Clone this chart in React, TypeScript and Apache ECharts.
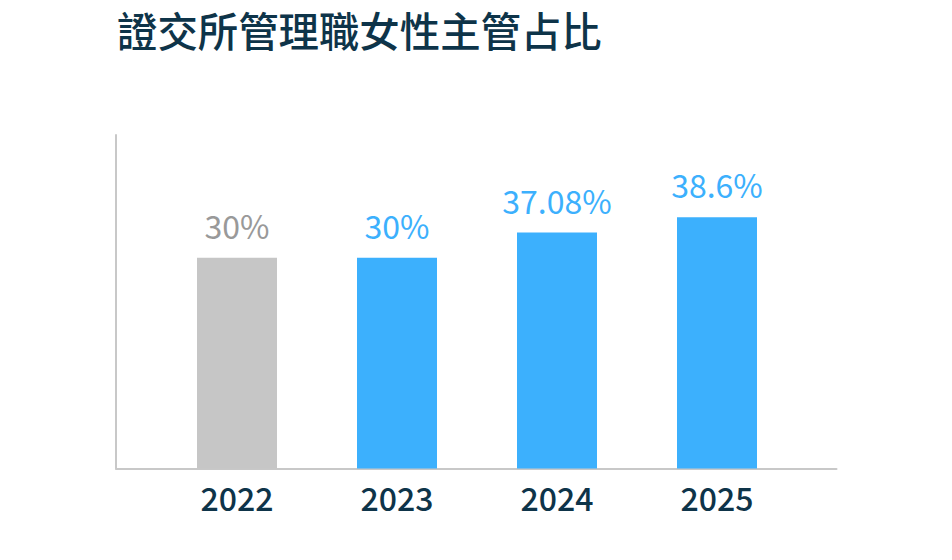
import React, { useEffect, useRef } from "react";
import * as echarts from "echarts";

const title = "證交所管理職女性主管占比";
const years = ["2022", "2023", "2024", "2025"];
// Values as printed on the labels
const labelValues = [30, 30, 37.08, 38.6];
// Bar heights (axis units, 0..47.5)
const barHeights = [30, 30, 33.6, 35.8];
const highlight = [false, true, true, true];

const FONT = "'Noto Sans CJK TC', 'Noto Sans', sans-serif";

export default function App() {
  const ref = useRef<HTMLDivElement>(null);
  useEffect(() => {
    document.body.style.margin = "0";
    const chart = echarts.init(ref.current!, undefined, { renderer: "svg" });
    chart.setOption({
      animation: false,
      backgroundColor: "#ffffff",
      title: {
        text: title,
        left: 112,
        top: 4,
        textStyle: { fontFamily: FONT, fontSize: 40.4, fontWeight: 500, color: "#0e3449" },
      },
      grid: [
        { left: 157, width: 640, top: 135, bottom: 91.5 },
        { left: 116, width: 720.5, top: 135, bottom: 91.5 },
      ],
      xAxis: [
        {
          type: "category",
          gridIndex: 0,
          data: years,
          axisLine: { show: false },
          axisTick: { show: false },
          axisLabel: { margin: 12, fontFamily: FONT, fontSize: 32, fontWeight: 500, color: "#0e3449" },
        },
        {
          type: "category",
          gridIndex: 1,
          data: [""],
          axisLine: { show: true, lineStyle: { color: "#c8c8c8", width: 2 } },
          axisTick: { show: false },
          axisLabel: { show: false },
        },
      ],
      yAxis: [
        {
          type: "value",
          gridIndex: 0,
          min: 0,
          max: 47.5,
          show: false,
          splitLine: { show: false },
        },
        {
          type: "value",
          gridIndex: 1,
          min: 0,
          max: 1,
          axisLine: { show: true, lineStyle: { color: "#c8c8c8", width: 2 } },
          axisTick: { show: false },
          axisLabel: { show: false },
          splitLine: { show: false },
        },
      ],
      series: [
        {
          type: "bar",
          xAxisIndex: 0,
          yAxisIndex: 0,
          barWidth: 80,
          data: barHeights.map((v, i) => ({
            value: v,
            itemStyle: { color: highlight[i] ? "#3cb0fd" : "#c6c6c6" },
            label: { color: highlight[i] ? "#3cb0fd" : "#999999" },
          })),
          label: {
            show: true,
            position: "top",
            distance: 17,
            fontFamily: FONT,
            fontSize: 32,
            formatter: (p: any) => `${labelValues[p.dataIndex]}%`,
          },
        },
      ],
    });
    return () => chart.dispose();
  }, []);
  return <div ref={ref} style={{ width: 952, height: 560 }} />;
}
